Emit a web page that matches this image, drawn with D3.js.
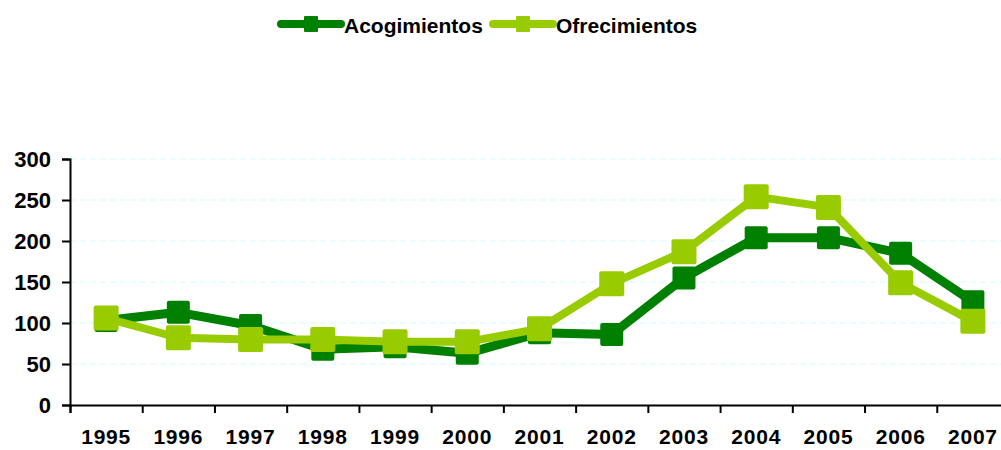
<!DOCTYPE html>
<html>
<head>
<meta charset="utf-8">
<script src="https://cdn.jsdelivr.net/npm/d3@7"></script>
<style>
  body { margin: 0; background: #fff; }
  text { font-family: "Liberation Sans", Arial, sans-serif; font-weight: bold; }
</style>
</head>
<body>
<div id="viz"></div>
<script>
// chart data
var years = ["1995","1996","1997","1998","1999","2000","2001","2002","2003","2004","2005","2006","2007"];
var acogimientos = [103, 113, 97, 68, 71, 63, 88, 86, 155, 204, 204, 185, 126];
var ofrecimientos = [106, 82, 80, 80, 77, 77, 93, 148, 187, 254, 241, 149, 102];
var yTicks = [0, 50, 100, 150, 200, 250, 300];
var seriesNames = ["Acogimientos", "Ofrecimientos"];
var seriesColors = ["#008000", "#99cc00"];

var W = 1001, H = 450;
var plot = { left: 70, right: 1009, top: 159, bottom: 405 };

var svg = d3.select("#viz").append("svg")
    .attr("width", W)
    .attr("height", H);

var x = d3.scaleBand()
    .domain(years)
    .range([plot.left, plot.right])
    .paddingInner(0).paddingOuter(0);

var y = d3.scaleLinear()
    .domain([0, 300])
    .range([plot.bottom, plot.top]);

// grid lines
svg.append("g")
    .selectAll("line")
    .data(yTicks.filter(function(d){ return d > 0; }))
    .enter().append("line")
        .attr("x1", plot.left)
        .attr("x2", W)
        .attr("y1", function(d){ return y(d); })
        .attr("y2", function(d){ return y(d); })
        .attr("stroke", "#ccffff")
        .attr("stroke-width", 1)
        .attr("stroke-dasharray", "6,4");

// y axis
var yAxis = svg.append("g")
    .attr("transform", "translate(" + plot.left + ",0)")
    .call(d3.axisLeft(y).tickValues(yTicks).tickSize(8).tickPadding(11));
yAxis.select(".domain").attr("stroke", "#000").attr("stroke-width", 2);
yAxis.selectAll(".tick line").attr("stroke", "#000").attr("stroke-width", 2);
yAxis.selectAll(".tick text")
    .attr("fill", "#000")
    .style("font-size", "22px")
    .attr("dy", "0.36em");

// x axis: ticks on category boundaries
var xIdx = d3.scaleLinear().domain([0, years.length]).range([plot.left, plot.right]);
var xBound = svg.append("g")
    .attr("transform", "translate(0," + plot.bottom + ")")
    .call(d3.axisBottom(xIdx).tickValues(d3.range(0, years.length)).tickSize(8).tickFormat(""));
xBound.select(".domain").attr("stroke", "#000").attr("stroke-width", 2);
xBound.selectAll(".tick line").attr("stroke", "#000").attr("stroke-width", 2);

var xLab = svg.append("g")
    .attr("transform", "translate(0," + plot.bottom + ")")
    .call(d3.axisBottom(x).tickSize(0).tickPadding(24));
xLab.select(".domain").remove();
xLab.selectAll(".tick text")
    .attr("fill", "#000")
    .style("font-size", "21px")
    .style("letter-spacing", "0.8px");

// series
var series = [acogimientos, ofrecimientos];
var line = d3.line()
    .x(function(d, i){ return x(years[i]) + x.bandwidth() / 2; })
    .y(function(d){ return y(d); });

series.forEach(function(vals, s){
    var g = svg.append("g").attr("class", "series");
    g.append("path")
        .datum(vals)
        .attr("d", line)
        .attr("fill", "none")
        .attr("stroke", seriesColors[s])
        .attr("stroke-width", s == 0 ? 9 : 8)
        .attr("stroke-linejoin", "round");
    var sz = s == 0 ? 23 : 25;
    g.selectAll("rect")
        .data(vals)
        .enter().append("rect")
            .attr("x", function(d, i){ return x(years[i]) + x.bandwidth() / 2 - sz / 2; })
            .attr("y", function(d){ return y(d) - sz / 2; })
            .attr("width", sz)
            .attr("height", sz)
            .attr("rx", 2)
            .attr("fill", seriesColors[s]);
});

// legend
var legendX = [281, 493];
var legend = svg.append("g");
seriesNames.forEach(function(name, s){
    var lg = legend.append("g").attr("transform", "translate(" + legendX[s] + ",24)");
    lg.append("line")
        .attr("x1", 0).attr("x2", 60)
        .attr("stroke", seriesColors[s])
        .attr("stroke-width", 8)
        .attr("stroke-linecap", "round");
    lg.append("rect")
        .attr("x", 23).attr("y", -8)
        .attr("width", 14).attr("height", 16)
        .attr("rx", 1)
        .attr("fill", seriesColors[s]);
    lg.append("text")
        .attr("x", 63)
        .attr("y", 9)
        .style("font-size", "21px")
        .attr("fill", "#000")
        .text(name);
});
</script>
</body>
</html>
